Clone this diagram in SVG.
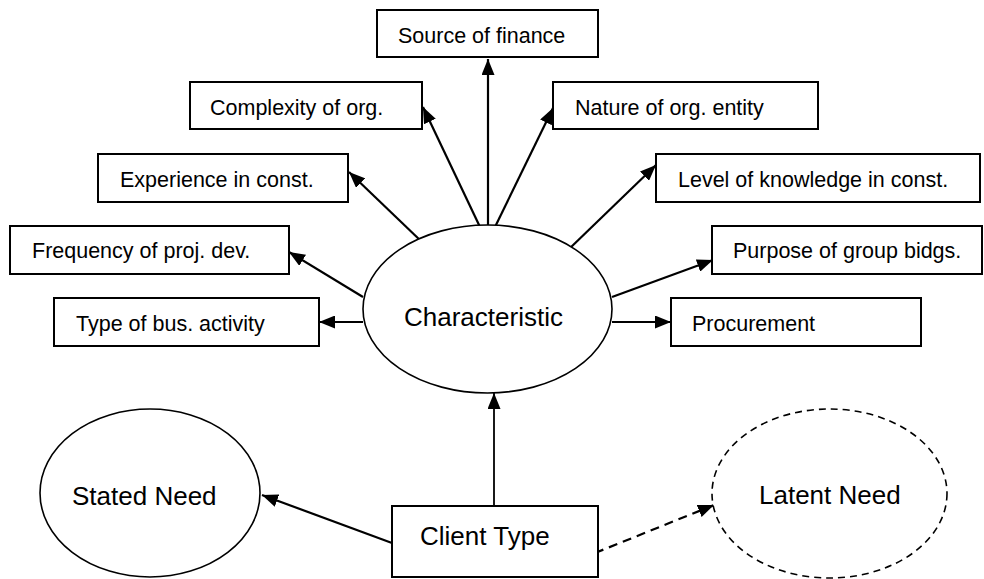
<svg xmlns="http://www.w3.org/2000/svg" width="984" height="579" viewBox="0 0 984 579">
  <defs>
    <marker id="arrow" markerUnits="userSpaceOnUse" markerWidth="16" markerHeight="13" refX="16" refY="6.5" orient="auto">
      <path d="M0,0 L16,6.5 L0,13 Z" fill="#000" stroke="none"/>
    </marker>
    <style>
      .box { fill: #fff; stroke: #000; stroke-width: 2; }
      .oval { fill: #fff; stroke: #000; stroke-width: 1.6; }
      .oval.dashed { stroke-dasharray: 7 5; }
      .label { font-family: "Liberation Sans", Arial, sans-serif; font-size: 21.5px; fill: #000; }
      .big { font-size: 26px; }
      .link { fill: none; stroke: #000; stroke-width: 2.2; marker-end: url(#arrow); }
      .link.thin { stroke-width: 1.8; }
      .link.dashed { stroke-dasharray: 9 6; }
    </style>
  </defs>
  <rect width="984" height="579" fill="#fff"/>

  <!-- connectors -->
  <g id="connectors">
    <line class="link" x1="488" y1="227" x2="488" y2="59"/>
    <line class="link" x1="480" y1="227" x2="423" y2="107"/>
    <line class="link" x1="495" y1="227" x2="553" y2="108"/>
    <line class="link" x1="422" y1="242" x2="349" y2="172"/>
    <line class="link" x1="568" y1="250" x2="656" y2="165"/>
    <line class="link" x1="363" y1="297" x2="289" y2="252"/>
    <line class="link" x1="612" y1="297" x2="713" y2="260"/>
    <line class="link" x1="363" y1="322" x2="319" y2="322"/>
    <line class="link" x1="612" y1="322" x2="671" y2="322"/>
    <line class="link thin" x1="494" y1="506" x2="494" y2="393"/>
    <line class="link" x1="392" y1="543" x2="262" y2="495"/>
    <line class="link dashed" x1="595" y1="553" x2="714" y2="505"/>
  </g>

  <!-- characteristic hub -->
  <g id="characteristic">
    <ellipse class="oval" cx="487.5" cy="309" rx="124.5" ry="84"/>
    <text class="label big" x="404" y="326">Characteristic</text>
  </g>

  <!-- characteristic attributes -->
  <g id="source-of-finance">
    <rect class="box" x="377" y="10" width="221" height="47"/>
    <text class="label" x="398" y="43">Source of finance</text>
  </g>
  <g id="complexity-of-org">
    <rect class="box" x="190" y="82" width="232" height="47"/>
    <text class="label" x="210" y="115">Complexity of org.</text>
  </g>
  <g id="nature-of-org-entity">
    <rect class="box" x="553" y="82" width="265" height="47"/>
    <text class="label" x="575" y="115">Nature of org. entity</text>
  </g>
  <g id="experience-in-const">
    <rect class="box" x="98" y="154" width="250" height="48"/>
    <text class="label" x="120" y="187">Experience in const.</text>
  </g>
  <g id="level-of-knowledge">
    <rect class="box" x="656" y="154" width="324" height="48"/>
    <text class="label" x="678" y="187">Level of knowledge in const.</text>
  </g>
  <g id="frequency-of-proj-dev">
    <rect class="box" x="10" y="226" width="279" height="48"/>
    <text class="label" x="32" y="258">Frequency of proj. dev.</text>
  </g>
  <g id="purpose-of-group-bidgs">
    <rect class="box" x="712" y="226" width="270" height="48"/>
    <text class="label" x="733" y="258">Purpose of group bidgs.</text>
  </g>
  <g id="type-of-bus-activity">
    <rect class="box" x="54" y="298" width="265" height="48"/>
    <text class="label" x="76" y="331">Type of bus. activity</text>
  </g>
  <g id="procurement">
    <rect class="box" x="671" y="298" width="250" height="48"/>
    <text class="label" x="692" y="331">Procurement</text>
  </g>

  <!-- client type and needs -->
  <g id="client-type">
    <rect class="box" x="392" y="506" width="206" height="71"/>
    <text class="label big" x="420" y="545">Client Type</text>
  </g>
  <g id="stated-need">
    <ellipse class="oval" cx="150" cy="493" rx="110" ry="84"/>
    <text class="label big" x="72" y="505">Stated Need</text>
  </g>
  <g id="latent-need">
    <ellipse class="oval dashed" cx="829.5" cy="493.5" rx="117.5" ry="84.5"/>
    <text class="label big" x="759" y="504">Latent Need</text>
  </g>
</svg>
